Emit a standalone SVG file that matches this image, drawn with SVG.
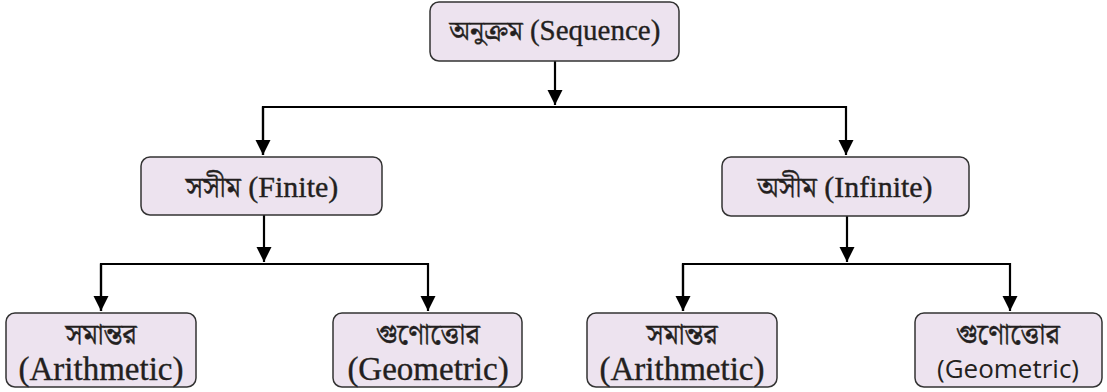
<svg xmlns="http://www.w3.org/2000/svg" width="1107" height="392" viewBox="0 0 1107 392">
<style>
.box{fill:#ede3ef;stroke:#333;stroke-width:1.5}
text{fill:#231f20;text-anchor:middle}
.t{font-family:'Liberation Serif',serif;stroke:#231f20;stroke-width:0.35}
.b{font-family:'Noto Serif Bengali','Noto Sans Bengali','Liberation Serif',serif;stroke:#231f20;stroke-width:0.35}
.s{font-family:'Open Sans','Liberation Sans',sans-serif}
.c{fill:none;stroke:#000;stroke-width:2.2}
</style>
<defs>
<marker id="ah" markerUnits="userSpaceOnUse" markerWidth="16" markerHeight="16" viewBox="0 0 16 16" refX="15" refY="8" orient="auto">
<path d="M0,0.5 L15,8 L0,15.5 Z" fill="#000"/>
</marker>
</defs>
<g id="connectors">
<path class="c" d="M555,61 V105" marker-end="url(#ah)"/>
<path class="c" d="M263,155 V107 H846 V155" marker-end="url(#ah)"/>
<path class="c" d="M263,107 V155" marker-end="url(#ah)"/>
<path class="c" d="M264,215 V262" marker-end="url(#ah)"/>
<path class="c" d="M101,311 V264 H428 V311" marker-end="url(#ah)"/>
<path class="c" d="M101,264 V311" marker-end="url(#ah)"/>
<path class="c" d="M847,216 V262" marker-end="url(#ah)"/>
<path class="c" d="M683,311 V264 H1010 V311" marker-end="url(#ah)"/>
<path class="c" d="M683,264 V311" marker-end="url(#ah)"/>
</g>
<g id="sequence">
<rect class="box" x="430" y="2" width="249" height="59" rx="9"/>
<text x="555" y="40" font-size="29"><tspan class="b" font-size="27">অনুক্রম</tspan><tspan class="t"> (Sequence)</tspan></text>
</g>
<g id="finite">
<rect class="box" x="141" y="157" width="241" height="58" rx="9"/>
<text x="262" y="197" font-size="30"><tspan class="b" font-size="28">সসীম</tspan><tspan class="t"> (Finite)</tspan></text>
</g>
<g id="infinite">
<rect class="box" x="722" y="157" width="247" height="59" rx="9"/>
<text x="845" y="197" font-size="30"><tspan class="b" font-size="28">অসীম</tspan><tspan class="t"> (Infinite)</tspan></text>
</g>
<g id="finite-arithmetic">
<rect class="box" x="6" y="313" width="190" height="74" rx="9"/>
<text class="b" x="101" y="344" font-size="28">সমান্তর</text>
<text class="t" x="101" y="380" font-size="33">(Arithmetic)</text>
</g>
<g id="finite-geometric">
<rect class="box" x="333" y="313" width="189" height="74" rx="9"/>
<text class="b" x="428" y="344" font-size="28">গুণোত্তোর</text>
<text class="t" x="428" y="380" font-size="33">(Geometric)</text>
</g>
<g id="infinite-arithmetic">
<rect class="box" x="587" y="313" width="190" height="74" rx="9"/>
<text class="b" x="682" y="344" font-size="28">সমান্তর</text>
<text class="t" x="682" y="380" font-size="33">(Arithmetic)</text>
</g>
<g id="infinite-geometric">
<rect class="box" x="915" y="313" width="187" height="74" rx="9"/>
<text class="b" x="1008" y="344" font-size="28">গুণোত্তোর</text>
<text class="s" x="1008" y="378" font-size="26">(Geometric)</text>
</g>
</svg>
